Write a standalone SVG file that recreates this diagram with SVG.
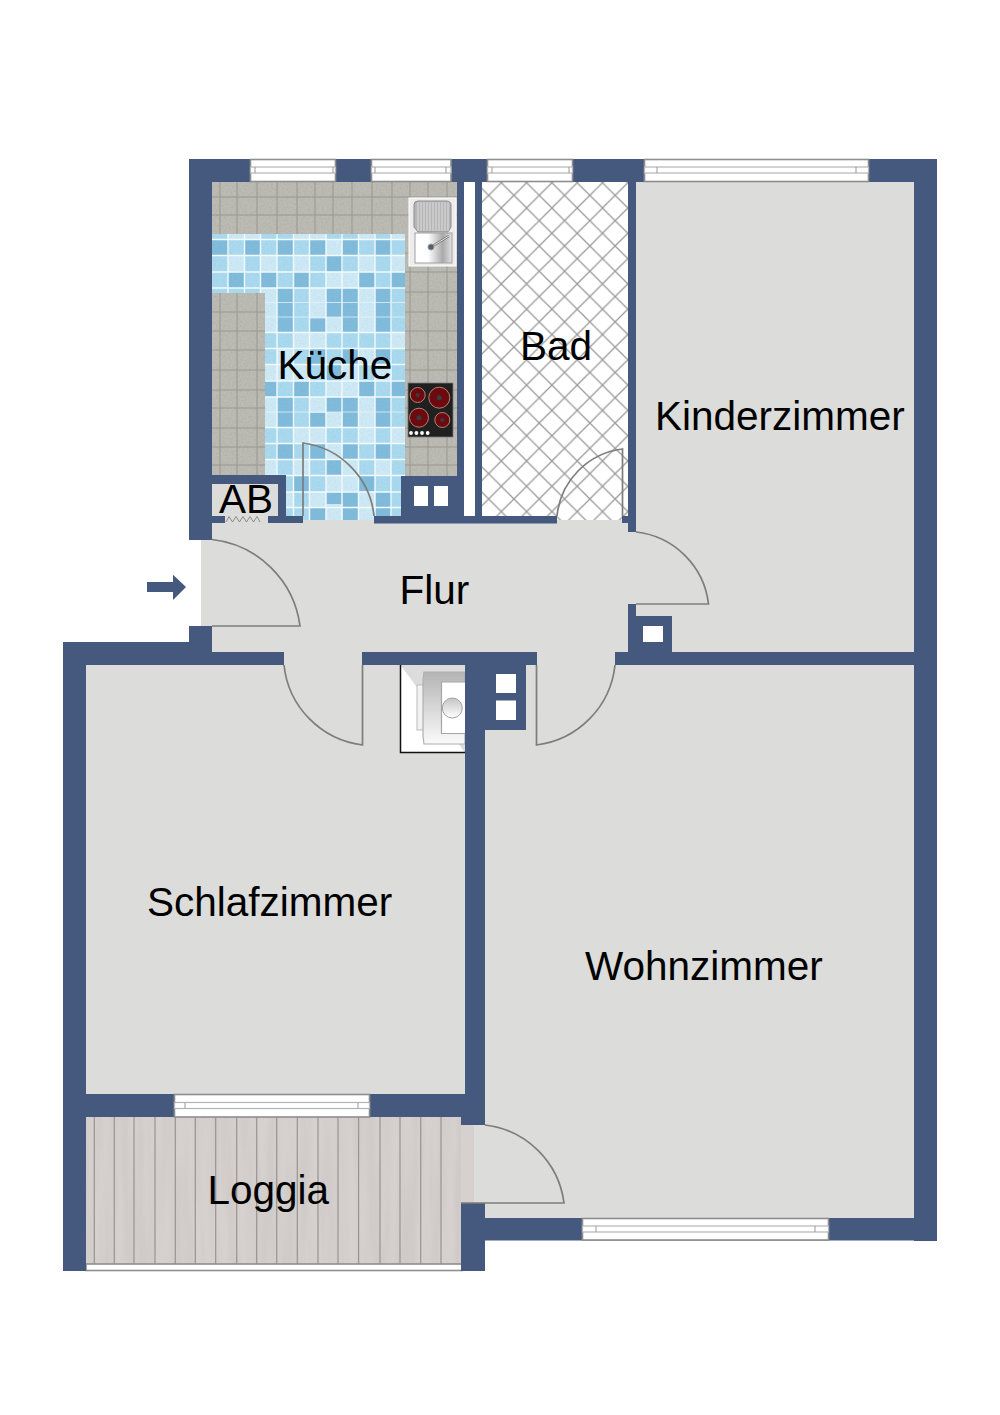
<svg xmlns="http://www.w3.org/2000/svg" width="1000" height="1415" viewBox="0 0 1000 1415">
<style>
.w{fill:#45597e}
.room{fill:#dcdcda}
.door{fill:none;stroke:#7d7d7b;stroke-width:1.7}
.win{fill:#fff;stroke:#8e8e8e;stroke-width:1.6}
.wi{fill:#fff;stroke:#b4b4b4;stroke-width:1.2}
.t{font-family:"Liberation Sans",Arial,sans-serif;font-size:40.5px;fill:#000}
.d rect{fill:#80bcdc;width:16.5px;height:16px}
.l rect{fill:#cdeaf6;width:16.5px;height:16px}
.hole{fill:#fff}
</style>
<defs>
<pattern id="lat" patternUnits="userSpaceOnUse" x="501.3" y="208" width="25.3" height="25.3">
<path d="M0 0L25.3 25.3M25.3 0L0 25.3" stroke="#9a9a9a" stroke-width="1.3" fill="none"/>
</pattern>
<filter id="grain" x="0" y="0" width="1" height="1">
<feTurbulence type="fractalNoise" baseFrequency="0.55" numOctaves="2" seed="4"/>
<feColorMatrix values="0 0 0 0 0.2 0 0 0 0 0.2 0 0 0 0 0.2 0.9 0 0 0 -0.33"/>
<feComposite in2="SourceAlpha" operator="in"/>
</filter>
<filter id="wood" x="0" y="0" width="1" height="1">
<feTurbulence type="fractalNoise" baseFrequency="0.09 0.006" numOctaves="3" seed="7"/>
<feColorMatrix values="0 0 0 0 0.45 0 0 0 0 0.42 0 0 0 0 0.42 0.7 0 0 0 -0.22"/>
<feComposite in2="SourceAlpha" operator="in"/>
</filter>
<linearGradient id="basin" x1="0" x2="1" y1="0" y2="0"><stop offset="0.35" stop-color="#fff"/><stop offset="0.75" stop-color="#a9a9a9"/><stop offset="1" stop-color="#e2e2e2"/></linearGradient>
<linearGradient id="appl" x1="0" x2="0" y1="0" y2="1"><stop offset="0" stop-color="#b4b4b4"/><stop offset="1" stop-color="#fafafa"/></linearGradient>
<linearGradient id="knob" x1="0" x2="0" y1="0" y2="1"><stop offset="0" stop-color="#c4c4c4"/><stop offset="1" stop-color="#fff"/></linearGradient>
<clipPath id="floorClip"><path d="M212 182H457V476H405V234H212ZM212 293H265V476H212Z"/></clipPath>
</defs>

<rect width="1000" height="1415" fill="#fff"/>

<g id="rooms">
<rect class="room" x="636" y="180" width="280" height="474"/>
<rect class="room" x="485" y="663" width="431" height="557"/>
<rect class="room" x="84" y="663" width="383" height="433"/>
<path class="room" d="M201 540H212V520H630V532H640V604H630V654H212V626H201Z"/>
<rect class="room" x="284" y="650" width="80" height="18"/>
<rect class="room" x="535" y="650" width="82" height="18"/>
</g>

<g id="kueche-floor">
<rect x="212" y="234" width="193" height="286" fill="#a9daf0"/>
<g class="d">
<rect x="212" y="239.5"/><rect x="244.5" y="239.5"/><rect x="277" y="239.5"/><rect x="309.5" y="239.5"/><rect x="342" y="239.5"/><rect x="375" y="239.5"/>
<rect x="326" y="255.5"/>
<rect x="228" y="272"/><rect x="260.5" y="272"/><rect x="293.5" y="272"/><rect x="358.5" y="272"/><rect x="391" y="272"/>
<rect x="277" y="288"/><rect x="326" y="288"/><rect x="342" y="288"/><rect x="375" y="288"/>
<rect x="277" y="302.5"/><rect x="326" y="302.5"/><rect x="342" y="302.5"/><rect x="375" y="302.5"/>
<rect x="277" y="317"/><rect x="309.5" y="317"/><rect x="342" y="317"/><rect x="375" y="317"/>
<rect x="309.5" y="348.5"/><rect x="342" y="348.5"/><rect x="375" y="348.5"/>
<rect x="326" y="364.5"/>
<rect x="260.5" y="381"/><rect x="293.5" y="381"/><rect x="358.5" y="381"/><rect x="391" y="381"/>
<rect x="277" y="397"/><rect x="326" y="397"/><rect x="342" y="397"/><rect x="375" y="397"/>
<rect x="277" y="412"/><rect x="309.5" y="412"/><rect x="342" y="412"/><rect x="375" y="412"/>
<rect x="277" y="443.5"/><rect x="309.5" y="443.5"/><rect x="342" y="443.5"/><rect x="375" y="443.5"/>
<rect x="326" y="459.5"/>
<rect x="293.5" y="475.5"/><rect x="358.5" y="475.5"/>
<rect x="326" y="492"/><rect x="342" y="492"/><rect x="375" y="492"/>
<rect x="309.5" y="504"/><rect x="342" y="504"/><rect x="375" y="504"/>
</g>
<g class="l">
<rect x="228" y="223.5"/><rect x="244.5" y="223.5"/><rect x="293.5" y="223.5"/><rect x="309.5" y="223.5"/><rect x="358.5" y="223.5"/><rect x="391" y="223.5"/>
<rect x="326" y="239.5"/>
<rect x="228" y="255.5"/><rect x="260.5" y="255.5"/><rect x="293.5" y="255.5"/><rect x="358.5" y="255.5"/><rect x="391" y="255.5"/>
<rect x="326" y="272"/><rect x="342" y="272"/>
<rect x="260.5" y="288"/><rect x="309.5" y="288"/><rect x="358.5" y="288"/>
<rect x="260.5" y="302.5"/><rect x="309.5" y="302.5"/><rect x="358.5" y="302.5"/>
<rect x="260.5" y="317"/><rect x="326" y="317"/><rect x="358.5" y="317"/>
<rect x="293.5" y="332.5"/><rect x="309.5" y="332.5"/><rect x="391" y="332.5"/>
<rect x="277" y="348.5"/><rect x="358.5" y="348.5"/>
<rect x="260.5" y="364.5"/><rect x="277" y="364.5"/><rect x="293.5" y="364.5"/><rect x="342" y="364.5"/><rect x="375" y="364.5"/>
<rect x="326" y="381"/><rect x="342" y="381"/>
<rect x="260.5" y="397"/><rect x="309.5" y="397"/><rect x="358.5" y="397"/>
<rect x="260.5" y="412"/><rect x="326" y="412"/><rect x="358.5" y="412"/>
<rect x="293.5" y="427.5"/><rect x="309.5" y="427.5"/><rect x="358.5" y="427.5"/><rect x="391" y="427.5"/>
<rect x="326" y="443.5"/>
<rect x="260.5" y="459.5"/><rect x="293.5" y="459.5"/><rect x="342" y="459.5"/><rect x="375" y="459.5"/>
<rect x="326" y="475.5"/><rect x="342" y="475.5"/>
<rect x="277" y="492"/><rect x="309.5" y="492"/><rect x="358.5" y="492"/>
<rect x="326" y="504"/><rect x="358.5" y="504"/>
</g>
<rect x="212" y="234" width="193" height="286" fill="#000" filter="url(#grain)" opacity="0.18"/>
<path fill="none" stroke="#f2fafd" stroke-width="1.4" d="M212 239.5H405M212 255.5H405M212 272H405M212 288H405M212 332.5H405M212 348.5H405M212 364.5H405M212 381H405M212 397H405M212 427.5H405M212 443.5H405M212 459.5H405M212 475.5H405M212 492H405M212 507.5H405M228 234V520M244.5 234V520M260.5 234V520M277 234V520M293.5 234V520M309.5 234V520M326 234V520M342 234V520M358.5 234V520M375 234V520M391 234V520"/>
<path fill="none" stroke="#eaf7fc" stroke-width="0.7" d="M212 302.5H405M212 317H405M212 412H405"/>
<path d="M212 182H457V476H405V234H212ZM212 293H265V476H212Z" fill="#bcbcb5"/>
<path d="M212 182H457V476H405V234H212ZM212 293H265V476H212Z" fill="#000" filter="url(#grain)" opacity="0.35"/>
<path clip-path="url(#floorClip)" fill="none" stroke="#98988f" stroke-width="1" d="M212 197H457M212 215H457M405 253H457M405 272H457M405 292H457M212 312H265M405 312H457M212 331H265M405 331H457M212 350H265M405 350H457M212 370H265M405 370H457M212 390H265M405 390H457M212 408H265M405 408H457M212 428H265M405 428H457M212 447H265M405 447H457M212 465H265M405 465H457M220 182V234M237 182V234M257 182V234M277 182V234M297 182V234M315 182V234M333 182V234M352 182V234M372 182V234M392 182V234M410 182V476M428 182V476M447 182V476M220 293V476M237 293V476M257 293V476"/>
</g>

<g id="spuele">
<rect x="409" y="198" width="47" height="68" fill="#ececec" stroke="#fff"/>
<path d="M414 205q0-4 4-4h28q5 0 5 4v22l-3 5h-30l-4-5z" fill="#b5b5b5" stroke="#8e8e8e"/>
<path d="M418 202V231M421 202V231M424 202V231M427 202V231M430 202V231M433 202V231M436 202V231M439 202V231M442 202V231M445 202V231M448 202V231" stroke="#d8d8d8" stroke-width="1.2"/>
<rect x="415" y="233" width="37" height="30" fill="url(#basin)" stroke="#a0a0a0"/>
<path d="M431 247L449 236" stroke="#777" stroke-width="2.4"/>
<path d="M431 247L449 236" stroke="#eee" stroke-width="0.9"/>
<circle cx="431" cy="247" r="3" fill="#55606a" stroke="#999"/>
</g>

<g id="kochfeld">
<rect x="408" y="383" width="45" height="54" fill="#202020" stroke="#777" stroke-width="0.8"/>
<circle cx="417.7" cy="395" r="7.5" fill="#6d0a10" stroke="#b48272"/>
<circle cx="439.3" cy="397.7" r="10.5" fill="#6d0a10" stroke="#b48272"/>
<circle cx="419" cy="417.7" r="9.5" fill="#6d0a10" stroke="#b48272"/>
<circle cx="442.3" cy="420" r="7.5" fill="#6d0a10" stroke="#b48272"/>
<circle cx="417.7" cy="395" r="2" fill="#3c3c3c"/>
<circle cx="439.3" cy="397.7" r="2.5" fill="#3c3c3c"/>
<circle cx="419" cy="417.7" r="2.5" fill="#3c3c3c"/>
<circle cx="442.3" cy="420" r="2" fill="#3c3c3c"/>
<circle cx="411" cy="433" r="1.9" fill="#fff"/>
<circle cx="416.4" cy="433" r="1.9" fill="#fff"/>
<circle cx="422" cy="433" r="1.9" fill="#fff"/>
<circle cx="427.7" cy="433" r="1.9" fill="#fff"/>
</g>

<g id="bad-floor">
<rect x="482" y="182" width="146" height="338" fill="#fff"/>
<rect x="482" y="182" width="146" height="338" fill="url(#lat)"/>
</g>

<g id="loggia-floor">
<rect x="86" y="1117" width="375" height="147" fill="#d6d1cf"/>
<rect x="86" y="1117" width="375" height="147" fill="#000" filter="url(#wood)" opacity="0.6"/>
<path fill="none" stroke="#99938f" stroke-width="1.2" d="M94.3 1117V1264M114.3 1117V1264M134 1117V1264M155 1117V1264M175.3 1117V1264M195.3 1117V1264M215.7 1117V1264M236.7 1117V1264M256.7 1117V1264M276.7 1117V1264M297.3 1117V1264M318 1117V1264M338 1117V1264M358.6 1117V1264M380 1117V1264M400 1117V1264M420.7 1117V1264M441 1117V1264"/>
<rect x="461" y="1125" width="13" height="78" fill="#d6d1cf"/>
<rect x="474" y="1125" width="11" height="78" class="room"/>
<rect class="win" x="86" y="1264" width="376" height="6.5"/>
</g>

<g id="waende">
<rect class="room" x="212" y="516" width="66" height="8"/>
<rect class="w" x="189" y="159" width="748" height="23"/>
<rect class="w" x="914" y="159" width="23" height="1082"/>
<rect class="w" x="189" y="159" width="23" height="381"/>
<rect class="w" x="189" y="626" width="23" height="39"/>
<rect class="w" x="63" y="642" width="149" height="23"/>
<rect class="w" x="212" y="652" width="72" height="13"/>
<rect class="w" x="63" y="642" width="23" height="629"/>
<rect class="w" x="457" y="182" width="7" height="341"/>
<rect class="w" x="475" y="182" width="7" height="341"/>
<rect class="w" x="628" y="182" width="8" height="350"/>
<rect class="w" x="212" y="516" width="13" height="7"/>
<rect class="w" x="268" y="516" width="35" height="7"/>
<rect class="w" x="374" y="516" width="183" height="7.5"/>
<rect class="w" x="622" y="516" width="6" height="7"/>
<path class="w" d="M212 475H286V516H278V484H212Z"/>
<rect class="w" x="401" y="476" width="56" height="40"/>
<rect class="w" x="628" y="604" width="8" height="48"/>
<rect class="w" x="628" y="616" width="44" height="37"/>
<rect class="w" x="615" y="652" width="299" height="13"/>
<rect class="w" x="362" y="652" width="175" height="13"/>
<rect class="w" x="465" y="652" width="61" height="78"/>
<rect class="w" x="465" y="652" width="20" height="473"/>
<rect class="w" x="63" y="1094" width="422" height="23"/>
<rect class="w" x="461" y="1094" width="24" height="31"/>
<rect class="w" x="461" y="1203" width="24" height="68"/>
<rect class="w" x="485" y="1218" width="452" height="22.5"/>
<rect class="hole" x="414" y="486" width="14" height="20"/>
<rect class="hole" x="434" y="486" width="14" height="20"/>
<rect class="hole" x="643" y="626" width="20" height="16"/>
<rect class="hole" x="496" y="674" width="20" height="19"/>
<rect class="hole" x="496" y="700.500" width="20" height="19.500"/>
<rect class="room" x="212" y="484" width="66" height="32"/>
<path d="M226 522L229 516.500L232.500 522L236 516.500L239.500 522L243 516.500L246.500 522L250 516.500L253.500 522L257 516.500L260 522" fill="none" stroke="#8b8b8b" stroke-width="1"/>
</g>

<g id="fenster">
<rect class="win" x="250.500" y="159.500" width="85" height="22"/><rect class="wi" x="250.500" y="167" width="85" height="6"/><path d="M255 167V173M333 167V173" stroke="#999"/>
<rect class="win" x="371.500" y="159.500" width="79.500" height="22"/><rect class="wi" x="371.500" y="167" width="79.500" height="6"/><path d="M375 167V173M446 167V173" stroke="#999"/>
<rect class="win" x="487.500" y="159.500" width="85" height="22"/><rect class="wi" x="487.500" y="167" width="85" height="6"/><path d="M492 167V173M569 167V173" stroke="#999"/>
<rect class="win" x="644.500" y="159.500" width="224" height="22"/><rect class="wi" x="644.500" y="167" width="224" height="6"/><path d="M657 167V173M856 167V173" stroke="#999"/>
<rect class="win" x="174.500" y="1094.500" width="195" height="22.500"/><rect class="wi" x="174.500" y="1102.500" width="195" height="6"/><path d="M185 1102.500V1108.500M358 1102.500V1108.500" stroke="#999"/>
<rect class="win" x="582.500" y="1218.500" width="246" height="21.500"/><rect class="wi" x="582.500" y="1226" width="246" height="6"/><path d="M596 1226V1232M815 1226V1232" stroke="#999"/>
</g>

<g id="herd">
<path d="M400.500 665V752.500H465" fill="#fff" stroke="#111" stroke-width="1.5"/>
<rect x="417" y="685" width="7" height="45" fill="#f2f2f2" stroke="#bbb"/>
<path d="M465 672H424L423 680V736L424 744H465Z" fill="url(#appl)" stroke="#b0b0b0" stroke-width="1.2"/>
<path d="M465 682H441.500V733.500H465" fill="#fff" stroke="#a6a6a6" stroke-width="1.2"/>
<circle cx="452.300" cy="708" r="10" fill="url(#knob)" stroke="#a0a0a0"/>
<rect class="w" x="465" y="660" width="20" height="100"/>
</g>

<g id="tueren">
<path class="door" d="M212 539.500A100 100 0 0 1 300 626H212"/>
<path class="door" d="M303 516V443A82 82 0 0 1 374 516"/>
<path class="door" d="M622.500 516V449A75 75 0 0 0 557 516"/>
<path class="door" d="M636 532A82 82 0 0 1 708.500 604H636"/>
<path class="door" d="M284 665A90 90 0 0 0 362.500 745V665"/>
<path class="door" d="M615 665A90 90 0 0 1 536.500 745V665"/>
<path class="door" d="M485 1125A90 90 0 0 1 564 1203H461"/>
<path d="M147 582H173V574.700L186 587L173 600V592H147Z" class="w"/>
</g>

<g id="beschriftung">
<text class="t" x="277.500" y="379">Küche</text>
<text class="t" x="520" y="360">Bad</text>
<text class="t" x="655" y="430">Kinderzimmer</text>
<text class="t" x="219" y="513">AB</text>
<text class="t" x="399.500" y="604">Flur</text>
<text class="t" x="147" y="916">Schlafzimmer</text>
<text class="t" x="585" y="980">Wohnzimmer</text>
<text class="t" x="207.500" y="1204">Loggia</text>
</g>
</svg>
